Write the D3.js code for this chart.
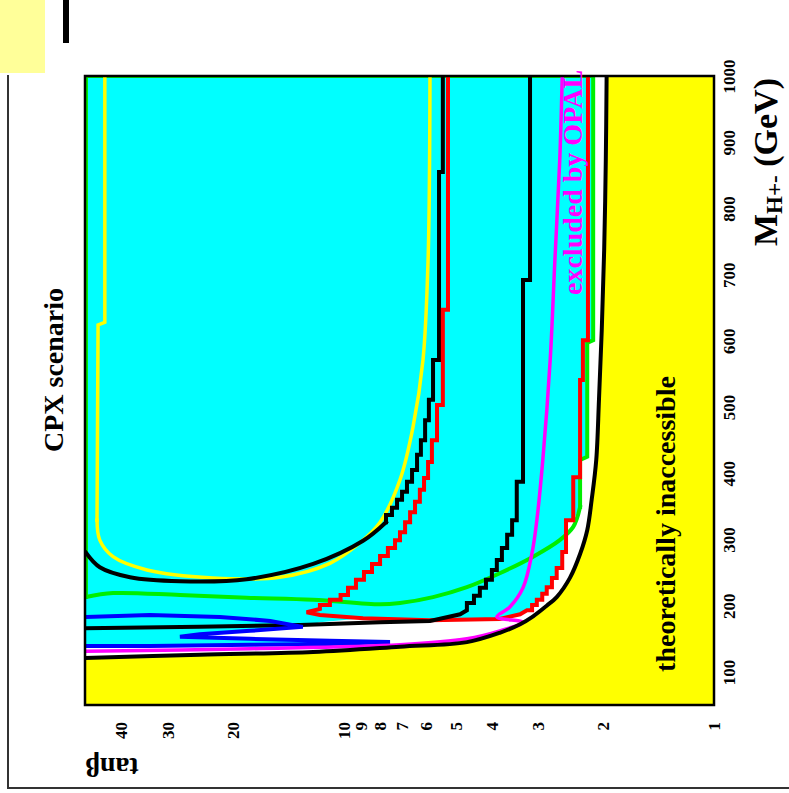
<!DOCTYPE html>
<html>
<head>
<meta charset="utf-8">
<script src="https://cdn.jsdelivr.net/npm/d3@7"></script>
<style>
  body { margin: 0; background: #fff; }
  text { font-family: "Liberation Serif", "Times New Roman", serif; font-weight: bold; }
</style>
</head>
<body>
<div id="vis"></div>
<script>
const width = 789;
const height = 793;

// tick labels
const massTicks = [100, 200, 300, 400, 500, 600, 700, 800, 900, 1000];
const tanbTicks = [1, 2, 3, 4, 5, 6, 7, 8, 9, 10, 20, 30, 40];

// all curves are [M_H+- (GeV), tanβ]
const theoryBoundary = [[121,50],[126,24.5],[130,12.1],[138,7.05],[145,4.65],[159,3.79],[172,3.34],[184,3.08],
	[200,2.83],[213,2.66],[242,2.45],[278,2.30],[314,2.20],[360,2.14],[420,2.08],[511,2.045],[616,2.01],
	[737,1.98],[873,1.96],[1000,1.95]];

const excludedArea = [[1000,49.7],[1000,2.12],[601,2.12],[597,2.20],[425,2.20],[420,2.30],[349,2.30],[329,2.40],
	[329,2.51],[281,2.51],[281,2.57],[257,2.57],[257,2.66],[242,2.66],[242,2.74],[228,2.74],[228,2.83],[218,2.83],
	[218,2.91],[209,2.91],[209,3.01],[201,3.01],[201,3.10],[193,3.10],[193,3.20],[187,3.34],[180,3.79],[178,5.85],
	[181,8.87],[175,11.6],[168,12.9],[154,27.7],[145,7.50],[139,17.9],[137,49.7]];

const opalCurve = [[1000,2.57],[873,2.61],[722,2.69],[571,2.77],[420,2.90],[329,3.01],[280,3.10],[227,3.28],
	[198,3.56],[183,3.86],[175,3.28],[162,3.79],[150,4.65],[141,7.05],[135,17.9],[131,49.7]];

const greenLower = [[213,49.7],[219,42.0],[216,27.7],[212,18.3],[209,12.1],[202,7.98],[204,7.05],[213,5.74],
	[228,4.65],[249,3.79],[274,3.08],[299,2.61],[319,2.40],[349,2.30]];
const greenUpper = [[349,2.30],[420,2.30],[425,2.20],[597,2.20],[601,2.12],[1000,2.12],[1000,49.7],[213,49.7]];

const yellowTop = [[1000,44.2],[628,44.2],[624,46.1],[329,46.4]];
const yellowBottom = [[329,46.4],[299,45.6],[274,42.0],[254,34.0],[242,22.6],[243,14.9],[264,10.9],[295,9.04],
	[326,7.98],[390,7.05],[470,6.50],[571,6.11],[722,5.92],[1000,5.85]];

const blackLeftSteps = [[1000,5.40],[855,5.40],[855,5.53],[571,5.53],[571,5.74],[511,5.74],[511,5.89],[480,5.89],
	[480,6.03],[450,6.03],[450,6.19],[428,6.19],[428,6.34],[405,6.34],[405,6.54],[387,6.54],[387,6.75],[372,6.75],
	[372,6.96],[360,6.96],[360,7.18],[348,7.18],[348,7.41],[337,7.41],[337,7.69],[326,7.69]];
const blackLeftTail = [[326,7.69],[298,8.87],[263,12.1],[240,18.3],[237,27.7],[243,37.8],[258,45.6],[280,49.7]];

const redCurve = [[1000,5.23],[647,5.23],[647,5.40],[503,5.40],[503,5.60],[450,5.60],[450,5.78],[417,5.78],
	[417,5.92],[393,5.92],[393,6.07],[375,6.07],[375,6.23],[357,6.23],[357,6.42],[341,6.42],[341,6.62],[326,6.62],
	[326,6.83],[311,6.83],[311,7.05],[299,7.05],[299,7.27],[287,7.27],[287,7.60],[275,7.60],[275,7.98],[263,7.98],
	[263,8.39],[251,8.39],[251,8.82],[239,8.82],[239,9.27],[227,9.27],[227,9.74],[216,9.74],[216,10.2],[209,10.2],
	[209,10.9],[201,10.9],[201,11.6],[195,11.6],[190,12.6],[186,11.6],[181,8.87],[178,5.85],[180,3.79],[187,3.34],
	[193,3.20],[193,3.10],[201,3.10],[201,3.01],[209,3.01],[209,2.91],[218,2.91],[218,2.83],[228,2.83],[228,2.74],
	[242,2.74],[242,2.66],[257,2.66],[257,2.57],[281,2.57],[281,2.51],[329,2.51],[329,2.40],[394,2.40],[394,2.30],
	[541,2.30],[541,2.26],[601,2.26],[601,2.19],[1000,2.19]];

const blackCurveRight = [[1000,3.14],[692,3.14],[692,3.28],[387,3.28],[387,3.41],[329,3.41],[329,3.51],[307,3.51],
	[307,3.62],[287,3.62],[287,3.74],[269,3.74],[269,3.86],[254,3.86],[254,3.98],[239,3.98],[239,4.13],[227,4.13],
	[227,4.29],[215,4.29],[215,4.45],[204,4.45],[204,4.65],[193,4.65],[187,4.85],[177,5.85],[175,7.98],[171,13.1],
	[168,24.5],[166,49.7]];

const blueCurve = [[183,49.7],[186,33.4],[183,21.6],[177,15.8],[168,12.9],[162,17.9],[157,24.5],[153,27.7],
	[150,17.9],[147,10.9],[145,7.50],[142,10.9],[141,17.9],[139,33.4],[139,49.7]];

const x = d3.scaleLog().domain([1, 50]).range([714, 85]);
const y = d3.scaleLinear().domain([50, 1000]).range([705, 76]);

const line = d3.line().x(d => x(d[1])).y(d => y(d[0]));
const smooth = d3.line().x(d => x(d[1])).y(d => y(d[0])).curve(d3.curveCatmullRom.alpha(0.5));

const svg = d3.select("#vis")
	.append("svg")
	.attr("width", width)
	.attr("height", height);

// decorations outside the plot
svg.append("rect").attr("x", 0).attr("y", 0).attr("width", 45).attr("height", 73).attr("fill", "#ffff99");
svg.append("rect").attr("x", 63).attr("y", 0).attr("width", 6).attr("height", 43).attr("fill", "black");
svg.append("path")
	.attr("d", "M8,75 V788 H789")
	.attr("fill", "none")
	.attr("stroke", "#333")
	.attr("stroke-width", 2);

svg.append("clipPath").attr("id", "plotclip")
	.append("rect")
		.attr("x", x(50)).attr("y", y(1000))
		.attr("width", x(1) - x(50)).attr("height", y(50) - y(1000));

const plot = svg.append("g").attr("clip-path", "url(#plotclip)");

// theoretically inaccessible region
plot.append("path")
	.attr("d", smooth(theoryBoundary) + `L${x(1)},${y(1000)}L${x(1)},${y(50)}L${x(50)},${y(50)}Z`)
	.attr("fill", "#ffff00");

plot.append("path")
	.attr("d", line(excludedArea) + "Z")
	.attr("fill", "#00ffff");

const curves = [
	{data: greenLower, color: "#00ee00", w: 4, gen: smooth},
	{data: greenUpper, color: "#00ee00", w: 4, gen: line},
	{data: yellowTop, color: "#ffff00", w: 3.5, gen: line},
	{data: yellowBottom, color: "#ffff00", w: 3.5, gen: smooth},
	{data: blackLeftSteps, color: "black", w: 4, gen: line},
	{data: blackLeftTail, color: "black", w: 4, gen: smooth},
	{data: redCurve, color: "#ff0000", w: 4, gen: line},
	{data: blackCurveRight, color: "black", w: 4, gen: line},
	{data: blueCurve, color: "#0000ff", w: 4, gen: line},
	{data: opalCurve, color: "#ff00ff", w: 3.5, gen: smooth},
	{data: theoryBoundary, color: "black", w: 4, gen: smooth}
];

plot.selectAll("path.curve")
	.data(curves)
	.enter()
	.append("path")
		.classed("curve", true)
		.attr("d", d => d.gen(d.data))
		.attr("fill", "none")
		.attr("stroke", d => d.color)
		.attr("stroke-width", d => d.w)
		.attr("stroke-linecap", "square");

// plot frame
svg.append("rect")
	.attr("x", x(50)).attr("y", y(1000))
	.attr("width", x(1) - x(50)).attr("height", y(50) - y(1000))
	.attr("fill", "none")
	.attr("stroke", "black")
	.attr("stroke-width", 2.5);

// texts inside
svg.append("text")
	.attr("transform", "translate(582,295) rotate(-90)")
	.attr("fill", "#ff00ff")
	.attr("font-size", 28)
	.text("excluded by OPAL");

svg.append("text")
	.attr("transform", "translate(675,524) rotate(-90)")
	.attr("text-anchor", "middle")
	.attr("font-size", 28)
	.text("theoretically inaccessible");

svg.append("text")
	.attr("transform", "translate(63,370) rotate(-90)")
	.attr("text-anchor", "middle")
	.attr("font-size", 28)
	.text("CPX scenario");

// mass axis (right)
const massAxis = svg.append("g")
	.attr("transform", "translate(735,0)")
	.call(d3.axisRight(y).tickValues(massTicks).tickFormat(d3.format("d")).tickSize(0));
massAxis.select(".domain").remove();
massAxis.selectAll("text")
	.attr("x", 0).attr("dy", 0)
	.attr("transform", "rotate(-90)")
	.attr("text-anchor", "middle")
	.attr("font-size", 17)
	.attr("font-family", null);

// tanb axis (bottom)
const tanbAxis = svg.append("g")
	.attr("transform", "translate(0,722)")
	.call(d3.axisBottom(x).tickValues(tanbTicks).tickFormat(d3.format("d")).tickSize(0));
tanbAxis.select(".domain").remove();
tanbAxis.selectAll("text")
	.attr("y", 0).attr("x", 0).attr("dy", "0.35em")
	.attr("transform", "rotate(-90)")
	.attr("text-anchor", "end")
	.attr("font-size", 17)
	.attr("font-family", null);

const mlabel = svg.append("text")
	.attr("transform", "translate(777,246) rotate(-90)")
	.attr("font-size", 34);
mlabel.append("tspan").text("M");
mlabel.append("tspan").attr("dy", 5).attr("font-size", 23).text("H+-");
mlabel.append("tspan").attr("dy", -5).text(" (GeV)");

svg.append("text")
	.attr("transform", "translate(112,758) rotate(180)")
	.attr("text-anchor", "middle")
	.attr("font-size", 28)
	.text("tanβ");
</script>
</body>
</html>
